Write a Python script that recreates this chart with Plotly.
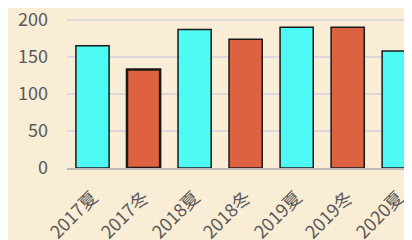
import plotly.graph_objects as go

categories = ["2017夏", "2017冬", "2018夏", "2018冬", "2019夏", "2019冬", "2020夏"]
values = [165, 133, 187, 174, 190, 190, 158]
season = ["夏", "冬", "夏", "冬", "夏", "冬", "夏"]
y_ticks = [0, 50, 100, 150, 200]

colors = ["#4DFBF4" if s == "夏" else "#DC6240" for s in season]
line_widths = [1.5, 2.5, 1.5, 1.5, 1.5, 1.5, 1.5]

fig = go.Figure(go.Bar(
    x=categories, y=values,
    marker=dict(color=colors, line=dict(color="#1A1A1A", width=line_widths)),
    width=0.65,
))

fig.update_layout(
    width=404, height=232,
    margin=dict(l=59, r=0, t=9, b=72, autoexpand=False),
    paper_bgcolor="#FAEDD6", plot_bgcolor="#FAEDD6",
    showlegend=False,
    font=dict(family="Noto Sans CJK JP", color="#595959", size=18),
)
fig.update_xaxes(range=[-0.5, 6.26], tickangle=-45, showgrid=False, automargin=False,
                 tickfont=dict(size=18), showline=True, linecolor="#BDBAB8", linewidth=1.5,
                 ticks="", ticklabelstandoff=10, ticklabeloverflow="allow")
fig.update_yaxes(range=[0, 204], tickvals=y_ticks, gridcolor="#DDD7D9", gridwidth=1.5,
                 automargin=False, zeroline=False, tickfont=dict(size=18), ticklabelstandoff=18,
                 ticklabeloverflow="allow")

fig.write_html("out.html")
